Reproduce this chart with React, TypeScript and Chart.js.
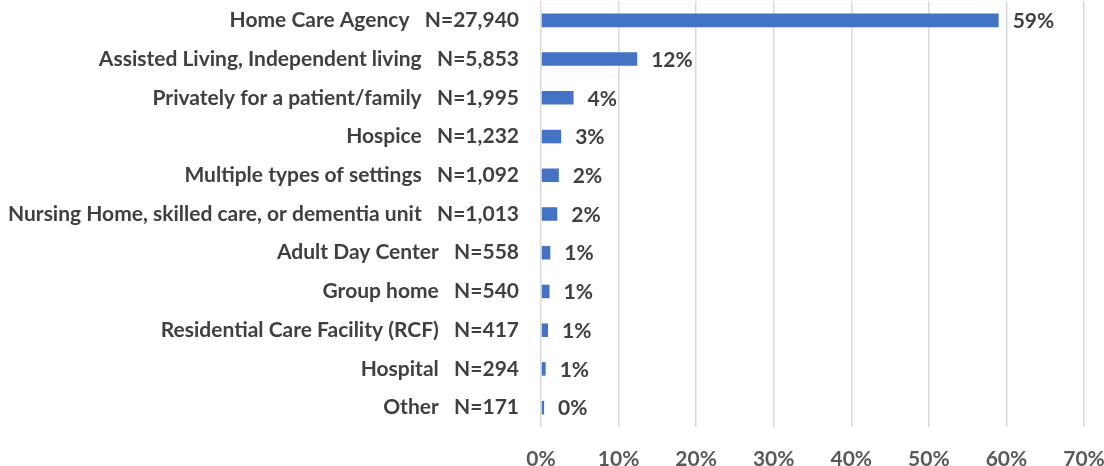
import React, { useEffect, useRef } from "react";
import { Chart, registerables } from "chart.js";

Chart.register(...registerables);

const categories = [
  "Home Care Agency",
  "Assisted Living, Independent living",
  "Privately for a patient/family",
  "Hospice",
  "Multiple types of settings",
  "Nursing Home, skilled care, or dementia unit",
  "Adult Day Center",
  "Group home",
  "Residential Care Facility (RCF)",
  "Hospital",
  "Other",
];
const counts = ["27,940", "5,853", "1,995", "1,232", "1,092", "1,013", "558", "540", "417", "294", "171"];
const percents = [59.0, 12.4, 4.2, 2.6, 2.3, 2.1, 1.2, 1.1, 0.9, 0.6, 0.4];
const percentLabels = ["59%", "12%", "4%", "3%", "2%", "2%", "1%", "1%", "1%", "1%", "0%"];
const xMin = 0;
const xMax = 70;
const xStep = 10;

const FONT = "Lato, 'Open Sans', sans-serif";
const FONT_SIZE = 21;
const TEXT_COLOR = "#404040";
const TICK_COLOR = "#595959";
const BAR_COLOR = "#4472C4";
const GRID_COLOR = "#d9d9d9";

const W = 1104;
const H = 466;
const PLOT_LEFT = 541;
const PLOT_BOTTOM = 427;

const valueLabelPlugin = {
  id: "valueLabels",
  afterDatasetsDraw(chart: any) {
    const ctx = chart.ctx;
    const meta = chart.getDatasetMeta(0);
    ctx.save();
    ctx.font = `bold ${FONT_SIZE}px ${FONT}`;
    ctx.fillStyle = TEXT_COLOR;
    ctx.textAlign = "left";
    ctx.textBaseline = "middle";
    meta.data.forEach((bar: any, i: number) => {
      ctx.fillText(percentLabels[i], bar.x + 14, bar.y + 1);
    });
    ctx.restore();
  },
};

export default function App() {
  const ref = useRef<HTMLCanvasElement | null>(null);

  useEffect(() => {
    document.body.style.margin = "0";
    const canvas = ref.current;
    if (!canvas) return;
    const labels = categories.map((c, i) => `${c}   N=${counts[i]}`);
    const chart = new Chart(canvas, {
      type: "bar",
      data: {
        labels,
        datasets: [
          {
            data: percents,
            backgroundColor: BAR_COLOR,
            borderWidth: 0,
            barPercentage: 0.35,
            categoryPercentage: 1,
          },
        ],
      },
      options: {
        indexAxis: "y",
        animation: false,
        responsive: false,
        maintainAspectRatio: false,
        devicePixelRatio: 1,
        layout: { padding: { left: 0, right: 20, top: 1, bottom: 0 } },
        plugins: {
          legend: { display: false },
          tooltip: { enabled: false },
          title: { display: false },
        },
        scales: {
          x: {
            type: "linear",
            min: xMin,
            max: xMax,
            ticks: {
              stepSize: xStep,
              padding: 20,
              color: TICK_COLOR,
              font: { family: FONT, size: FONT_SIZE, weight: "bold" },
              callback: (v: any) => `${v}%`,
            },
            grid: { color: GRID_COLOR, lineWidth: 1.5, drawTicks: false },
            border: { display: false },
            afterFit: (s: any) => {
              s.height = H - PLOT_BOTTOM;
              s.paddingLeft = 0;
              s.paddingRight = 0;
              s.paddingTop = 0;
              s.paddingBottom = 0;
            },
          },
          y: {
            type: "category",
            ticks: {
              padding: 22,
              color: TEXT_COLOR,
              autoSkip: false,
              font: { family: FONT, size: FONT_SIZE, weight: "bold" },
            },
            grid: { display: false, drawTicks: false },
            border: { display: false },
            afterFit: (s: any) => {
              s.width = PLOT_LEFT;
              s.paddingLeft = 0;
              s.paddingRight = 0;
              s.paddingTop = 0;
              s.paddingBottom = 0;
            },
          },
        },
      },
      plugins: [valueLabelPlugin],
    });
    return () => chart.destroy();
  }, []);

  return (
    <div style={{ position: "absolute", left: 0, top: 0, width: W, height: H, background: "#fff" }}>
      <canvas ref={ref} width={W} height={H} style={{ width: W, height: H, display: "block" }} />
    </div>
  );
}
